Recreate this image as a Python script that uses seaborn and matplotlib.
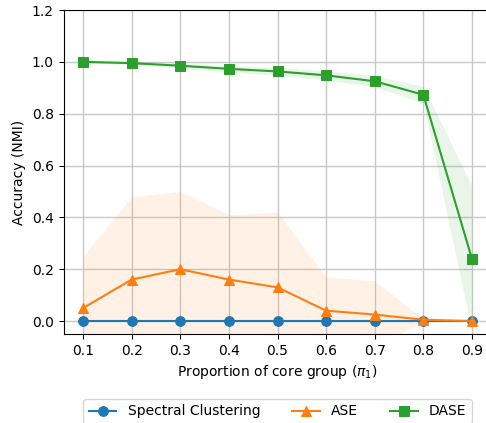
import matplotlib
matplotlib.use("Agg")
import matplotlib.pyplot as plt
import seaborn as sns
import numpy as np
import pandas as pd

proportions = [0.1, 0.2, 0.3, 0.4, 0.5, 0.6, 0.7, 0.8, 0.9]
sc_mean = [0.0, 0.0, 0.0, 0.0, 0.0, 0.0, 0.0, 0.0, 0.0]
sc_std = [0.0, 0.0, 0.0, 0.0, 0.0, 0.0, 0.0, 0.0, 0.0]
ase_mean = [0.05, 0.16, 0.20, 0.16, 0.13, 0.04, 0.025, 0.005, 0.0]
ase_std = [0.20, 0.32, 0.30, 0.25, 0.29, 0.13, 0.13, 0.003, 0.0]
dase_mean = [1.0, 0.995, 0.985, 0.973, 0.963, 0.948, 0.925, 0.873, 0.24]
dase_std = [0.003, 0.006, 0.01, 0.012, 0.015, 0.018, 0.022, 0.032, 0.28]
labels = ["Spectral Clustering", "ASE", "DASE"]
xticks = [0.1, 0.2, 0.3, 0.4, 0.5, 0.6, 0.7, 0.8, 0.9]
yticks = [0.0, 0.2, 0.4, 0.6, 0.8, 1.0, 1.2]

fig = plt.figure(figsize=(4.86, 4.23), dpi=100)
W, H = 486, 423
ax = fig.add_axes([63.6 / W, 1 - 334 / H, (491.4 - 63.6) / W, (334 - 10) / H])

colors = ["#1f77b4", "#ff7f0e", "#2ca02c"]
markers = ["o", "^", "s"]
series = [(sc_mean, sc_std), (ase_mean, ase_std), (dase_mean, dase_std)]

for (m, s), lab, c, mk in zip(series, labels, colors, markers):
    df = pd.DataFrame({"x": proportions, "y": m})
    sns.lineplot(data=df, x="x", y="y", ax=ax, color=c, marker=mk,
                 markersize=7, markeredgecolor=c, linewidth=1.5, label=lab)
    lo = np.array(m) - np.array(s)
    hi = np.array(m) + np.array(s)
    ax.fill_between(proportions, lo, hi, color=c, alpha=0.1, linewidth=0)

ax.set_xlim(0.06, 0.94)
ax.set_ylim(-0.05, 1.2)
ax.set_xticks(xticks)
ax.set_yticks(yticks)
ax.set_xticklabels([f"{v:.1f}" for v in xticks])
ax.set_yticklabels([f"{v:.1f}" for v in yticks])
ax.spines["right"].set_visible(False)
ax.grid(True, color="#c8c8c8", linewidth=1.0)
ax.set_axisbelow(True)
ax.set_xlabel(r"Proportion of core group ($\pi_1$)")
ax.set_ylabel("Accuracy (NMI)")
ax.legend(loc="upper center", bbox_to_anchor=(0.5, -0.179), ncol=3,
          frameon=True, fontsize=10, columnspacing=2.3)

fig.savefig("out.png", dpi=100)
